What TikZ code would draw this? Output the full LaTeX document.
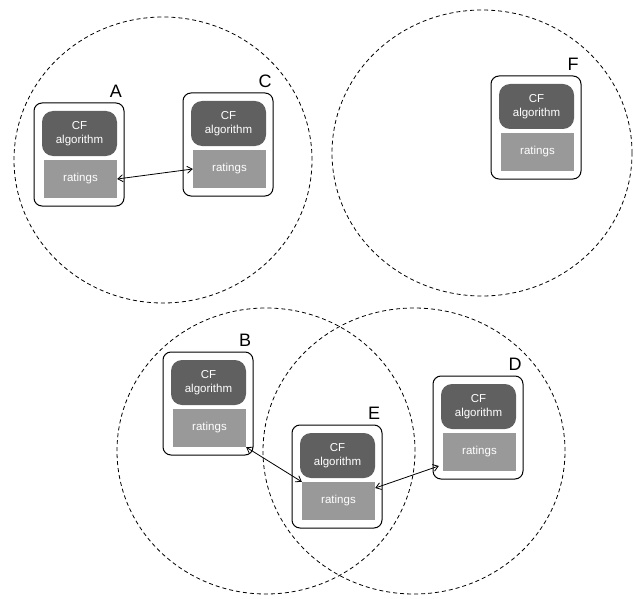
\documentclass[tikz,border=0pt]{standalone}
\usepackage{fontspec}
\setmainfont{Liberation Sans}
\usepackage{xcolor}
\usetikzlibrary{arrows.meta}
\definecolor{cfgray}{RGB}{96,96,96}
\definecolor{ratgray}{RGB}{153,153,153}

\begin{document}
\begin{tikzpicture}[x=1pt,y=-1pt,
        peer/.style={draw, line width=1pt, rounded corners=8pt, minimum width=90pt, minimum height=103pt, inner sep=0pt},
        cf/.style={fill=cfgray, rounded corners=11pt, minimum width=75pt, minimum height=45pt, inner sep=0pt, align=center, text=white, font=\fontsize{11.5}{14.5}\selectfont},
        rat/.style={fill=ratgray, minimum width=73pt, minimum height=38pt, inner sep=0pt, text=white, font=\fontsize{11.5}{14}\selectfont},
        tag/.style={font=\fontsize{18}{20}\selectfont},
        zone/.style={dash pattern=on 4pt off 3pt, line width=0.8pt},
        link/.style={{Straight Barb[length=5pt,width=7pt]}-{Straight Barb[length=5pt,width=7pt]}, line width=0.8pt}]
                \useasboundingbox (0,0) rectangle (634,599);
                % neighbourhoods
                \draw[zone] (163,160) ellipse [x radius=149pt, y radius=143pt];
                \draw[zone] (482,153) ellipse [x radius=150pt, y radius=143pt];
                \draw[zone] (266,451) ellipse [x radius=149pt, y radius=143pt];
                \draw[zone] (414,451) ellipse [x radius=151pt, y radius=143pt];
                % peers
                \foreach \n/\px/\py in {A/34/103, C/183/93, F/491/76, B/163/352, E/292/425, D/433/376}{
                    \node[peer] (box\n) at (\px+45,\py+51.5) {};
                    \node[cf] (cf\n) at (\px+45.5,\py+30.5) {CF\\algorithm};
                    \node[rat] (rat\n) at (\px+46.5,\py+76) {ratings};
                    \node[tag] (tag\n) at (\px+82,\py-12) {\n};
                }
                % exchanges
                \draw[link] (ratA.east) -- (ratC.west);
                \draw[link] (ratB.south east) -- (ratE.north west);
                \draw[link] ([yshift=13pt]ratE.east) -- ([xshift=-4pt,yshift=-14pt]ratD.west);
            \end{tikzpicture}
\end{document}
